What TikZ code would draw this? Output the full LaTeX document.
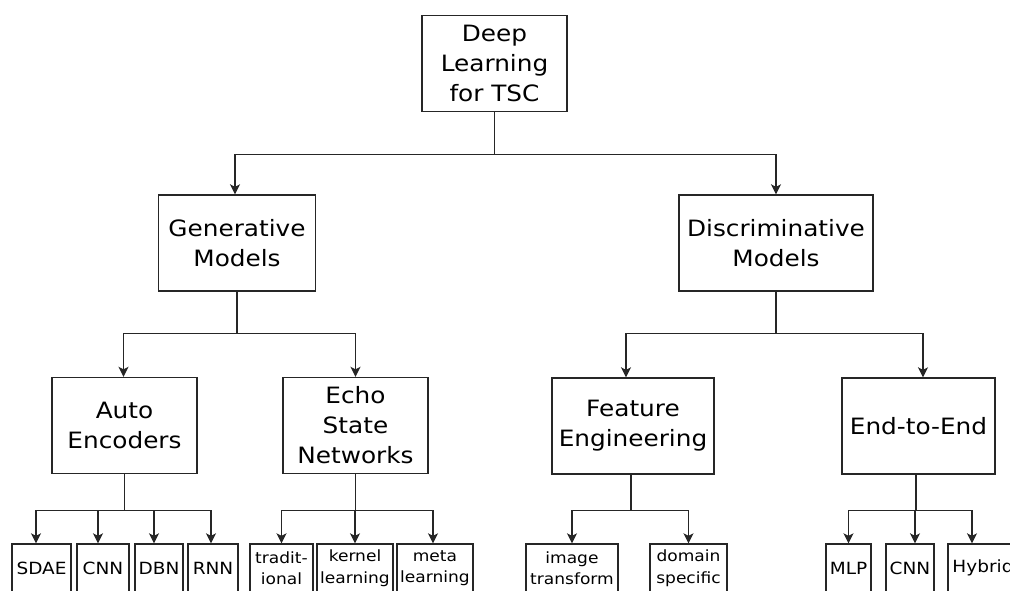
\documentclass[tikz,border=0pt]{standalone}
\usepackage{fontspec}
\setmainfont{DejaVu Sans}[FakeStretch=1.1]
\usetikzlibrary{arrows.meta}

\tikzset{
  box/.style={draw=black!85, line width=1.4pt, fill=white, align=center,
    inner sep=2pt, font=\fontsize{22.5}{30}\selectfont},
  bigbox/.style={box, minimum height=96pt},
  leaf/.style={box, minimum height=48pt, inner xsep=1pt,
    font=\fontsize{16.8}{22}\selectfont},
  leaftwo/.style={leaf, font=\fontsize{15.5}{21.5}\selectfont},
  link/.style={draw=black!85, line width=1.4pt},
  arr/.style={link, -{Stealth[length=10pt,width=10pt,inset=2.5pt]}}
}

\begin{document}
\begin{tikzpicture}[x=1pt,y=-1pt]
\useasboundingbox (0,0) rectangle (1010,590);
\clip (0,0) rectangle (1010,590);

% root and first level
\node[bigbox, minimum width=145pt] (root) at (494.5,63.5) {Deep\\Learning\\for TSC};
\node[bigbox, minimum width=157pt] (gen)  at (237,243) {Generative\\Models};
\node[bigbox, minimum width=194pt] (disc) at (776,243) {Discriminative\\Models};

% second level
\node[bigbox, minimum width=145pt] (ae)   at (124.5,425.5) {Auto\\Encoders};
\node[bigbox, minimum width=145pt] (esn)  at (355.5,425.5) {Echo\\State\\Networks};
\node[bigbox, minimum width=162pt] (fe)   at (633,426) {Feature\\Engineering};
\node[bigbox, minimum width=153pt] (e2e)  at (918.5,426) {End-to-End};

% leaves (the last one runs past the right edge)
\node[leaf, minimum width=59pt] (sdae)  at (41.5,568) {SDAE};
\node[leaf, minimum width=52pt] (cnna)  at (103,568) {CNN};
\node[leaf, minimum width=48pt] (dbn)   at (159,568) {DBN};
\node[leaf, minimum width=50pt] (rnn)   at (213,568) {RNN};
\node[leaftwo, minimum width=63pt] (trad)  at (281.5,568) {tradit-\\ional};
\node[leaftwo, minimum width=76pt] (kern)  at (355,568) {kernel\\learning};
\node[leaftwo, minimum width=76pt] (meta)  at (435,568) {meta\\learning};
\node[leaftwo, minimum width=92pt] (img)   at (572,568) {image\\transform};
\node[leaftwo, minimum width=77pt] (dom)   at (688.5,568) {domain\\specific};
\node[leaf, minimum width=45pt] (mlp)   at (848.5,568) {MLP};
\node[leaf, minimum width=48pt] (cnnb)  at (910,568) {CNN};
\node[leaf, minimum width=70pt] (hyb)   at (983,568) {Hybrid};

% connectors: stem down to a bus, then down into each child
\draw[arr] (root.south) -- ++(0,42) -| ([xshift=-2pt]gen.north);
\draw[arr] (root.south) -- ++(0,42) -| (disc.north);

\draw[arr] (gen.south) -- ++(0,42) -| ([xshift=-1pt]ae.north);
\draw[arr] (gen.south) -- ++(0,42) -| (esn.north);

\draw[arr] (disc.south) -- ++(0,42) -| ([xshift=-7pt]fe.north);
\draw[arr] (disc.south) -- ++(0,42) -| ([xshift=4.5pt]e2e.north);

\draw[arr] (ae.south) -- ++(0,36) -| ([xshift=-5.5pt]sdae.north);
\draw[arr] (ae.south) -- ++(0,36) -| ([xshift=-5pt]cnna.north);
\draw[arr] (ae.south) -- ++(0,36) -| ([xshift=-5pt]dbn.north);
\draw[arr] (ae.south) -- ++(0,36) -| ([xshift=-2pt]rnn.north);

\draw[arr] (esn.south) -- ++(0,36) -| (trad.north);
\draw[arr] (esn.south) -- ++(0,36) -| (kern.north);
\draw[arr] (esn.south) -- ++(0,36) -| ([xshift=-2pt]meta.north);

\draw[arr] ([xshift=-2pt]fe.south) -- ++(0,36) -| (img.north);
\draw[arr] ([xshift=-2pt]fe.south) -- ++(0,36) -| (dom.north);

\draw[arr] ([xshift=-2.5pt]e2e.south) -- ++(0,36) -| (mlp.north);
\draw[arr] ([xshift=-2.5pt]e2e.south) -- ++(0,36) -| ([xshift=5pt]cnnb.north);
\draw[arr] ([xshift=-2.5pt]e2e.south) -- ++(0,36) -| ([xshift=-11pt]hyb.north);
\end{tikzpicture}
\end{document}
